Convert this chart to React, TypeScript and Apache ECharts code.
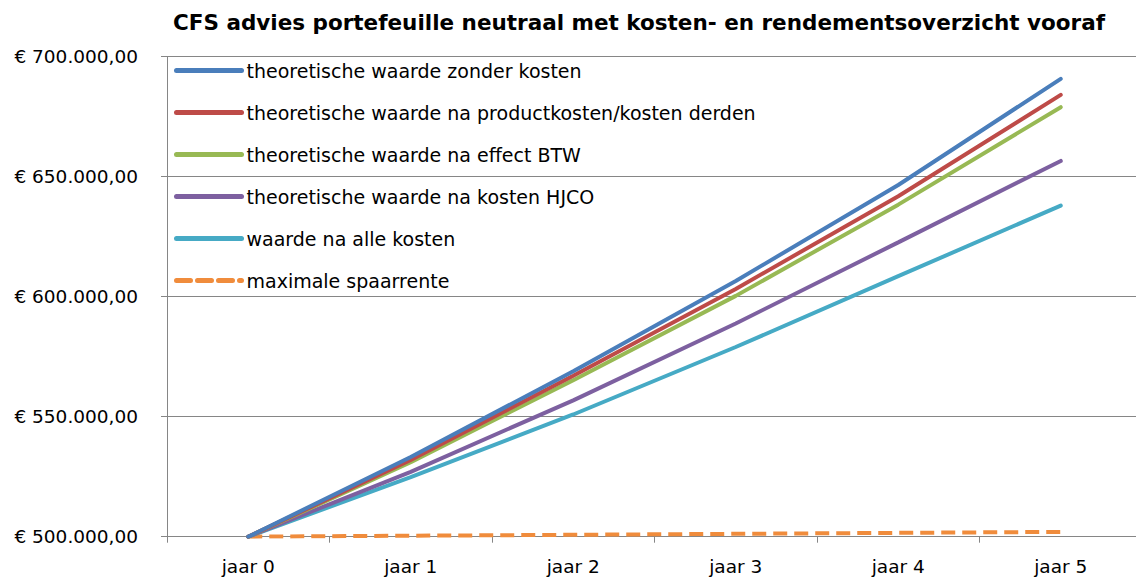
import React, { useEffect, useRef } from "react";
import * as echarts from "echarts";

const categories = ["jaar 0", "jaar 1", "jaar 2", "jaar 3", "jaar 4", "jaar 5"];
const seriesNames = [
  "theoretische waarde zonder kosten",
  "theoretische waarde na productkosten/kosten derden",
  "theoretische waarde na effect BTW",
  "theoretische waarde na kosten HJCO",
  "waarde na alle kosten",
  "maximale spaarrente",
];
const zonderKosten = [500000, 533200, 568900, 606500, 646500, 690700];
const naProductkosten = [500000, 532000, 567000, 603200, 641800, 684000];
const naBTW = [500000, 531000, 565200, 600300, 638300, 678900];
const naHJCO = [500000, 527000, 556800, 588800, 622600, 656500];
const naAlleKosten = [500000, 524800, 550900, 579000, 608500, 637900];
const spaarrente = [500000, 500400, 500800, 501200, 501600, 502000];
const seriesValues = [zonderKosten, naProductkosten, naBTW, naHJCO, naAlleKosten, spaarrente];
const colors = ["#4A7EBB", "#BE4B48", "#98B954", "#7D60A0", "#46AAC5", "#F08C3C"];

const yMin = 500000;
const yMax = 700000;
const yInterval = 50000;

function formatEuro(v: number): string {
  const s = Math.round(v).toString().replace(/\B(?=(\d{3})+(?!\d))/g, ".");
  return "€ " + s + ",00";
}

export default function App() {
  const ref = useRef<HTMLDivElement>(null);
  useEffect(() => {
    if (!ref.current) return;
    const chart = echarts.init(ref.current, null, { renderer: "svg" });
    const font = "DejaVu Sans";
    chart.setOption({
      animation: false,
      backgroundColor: "#ffffff",
      title: {
        text: "CFS advies portefeuille neutraal met kosten- en rendementsoverzicht vooraf",
        left: 634,
        top: 6,
        textAlign: "center",
        textStyle: { fontFamily: font, fontWeight: "bold", fontSize: 21.5, color: "#000" },
      },
      legend: {
        orient: "vertical",
        left: 174,
        top: 61,
        itemWidth: 65,
        itemHeight: 14,
        itemGap: 23,
        padding: 0,
        itemStyle: { opacity: 0 },
        lineStyle: { width: 5, cap: "round" },
        textStyle: { fontFamily: font, fontSize: 19, color: "#000", lineHeight: 17 },
        data: seriesNames,
      },
      grid: { left: 167, right: -6, top: 56.5, bottom: 44.3, containLabel: false, outerBoundsMode: "none" },
      xAxis: {
        type: "category",
        data: categories,
        boundaryGap: true,
        axisLine: { lineStyle: { color: "#868686", width: 1 } },
        axisTick: { show: true, length: 6, lineStyle: { color: "#868686" } },
        axisLabel: { fontFamily: font, fontSize: 18.5, color: "#000", margin: 20 },
      },
      yAxis: {
        type: "value",
        min: yMin,
        max: yMax,
        interval: yInterval,
        axisLine: { show: true, lineStyle: { color: "#868686", width: 1 } },
        axisTick: { show: true, length: 6, lineStyle: { color: "#868686" } },
        splitLine: { lineStyle: { color: "#868686", width: 1 } },
        axisLabel: {
          fontFamily: font,
          fontSize: 18.5,
          color: "#000",
          margin: 29,
          formatter: (v: number) => formatEuro(v),
        },
      },
      series: seriesNames.map((name, i) => ({
        name,
        type: "line",
        data: seriesValues[i],
        symbol: "none",
        color: colors[i],
        lineStyle: {
          color: colors[i],
          width: 4,
          type: i === 5 ? [14, 7] : "solid",
          cap: i === 5 ? "butt" : "round",
        },
        z: 10 - i,
      })),
    });
    return () => chart.dispose();
  }, []);
  return (
    <div
      ref={ref}
      style={{ position: "fixed", left: 0, top: 0, width: 1136, height: 581 }}
    />
  );
}
